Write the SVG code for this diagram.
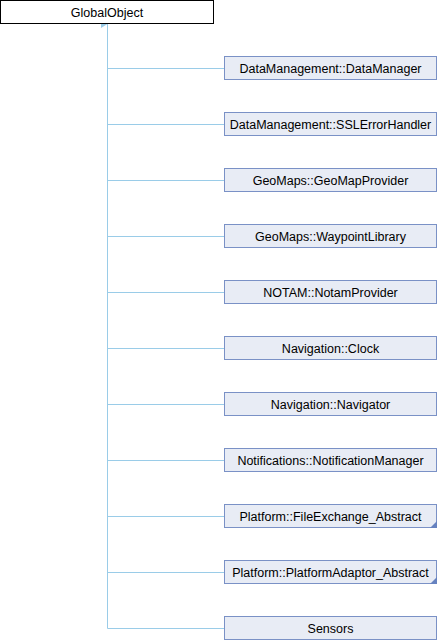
<svg xmlns="http://www.w3.org/2000/svg" width="438" height="640" viewBox="0 0 438 640">
<defs>
<style>
.box{fill:#E8ECF5;stroke:#7A91C6;stroke-width:1}
.root{fill:#FFFFFF;stroke:#000000;stroke-width:1}
.lbl{font-family:"Liberation Sans",Arial,sans-serif;font-size:12.5px;fill:#000000;text-anchor:middle}
.edge{stroke:#9ACCE8;stroke-width:1;fill:none}
.tri{fill:#6682C0}
</style>
<marker id="arr" markerWidth="8" markerHeight="8" refX="4" refY="0.5" orient="auto" markerUnits="userSpaceOnUse" viewBox="0 0 8 8">
<path d="M0,7 L4,0.5 L8,7 Z" fill="#9ACCE8"/>
</marker>
</defs>
<rect width="438" height="640" fill="#FFFFFF"/>
<g id="connectors">
<path class="edge" d="M107.5,24 V628.5" marker-start="url(#arr)"/>
<path class="edge" d="M107.5,68.5 H224"/>
<path class="edge" d="M107.5,124.5 H224"/>
<path class="edge" d="M107.5,180.5 H224"/>
<path class="edge" d="M107.5,236.5 H224"/>
<path class="edge" d="M107.5,292.5 H224"/>
<path class="edge" d="M107.5,348.5 H224"/>
<path class="edge" d="M107.5,404.5 H224"/>
<path class="edge" d="M107.5,460.5 H224"/>
<path class="edge" d="M107.5,516.5 H224"/>
<path class="edge" d="M107.5,572.5 H224"/>
<path class="edge" d="M107.5,628.5 H224"/>
</g>
<g id="GlobalObject"><rect class="root" x="0.5" y="0.5" width="213" height="23"/><text class="lbl" x="107" y="16.5">GlobalObject</text></g>
<g id="DataManager"><rect class="box" x="224.5" y="56.5" width="212" height="23"/><text class="lbl" x="330.5" y="72.5">DataManagement::DataManager</text></g>
<g id="SSLErrorHandler"><rect class="box" x="224.5" y="112.5" width="212" height="23"/><text class="lbl" x="330.5" y="128.5">DataManagement::SSLErrorHandler</text></g>
<g id="GeoMapProvider"><rect class="box" x="224.5" y="168.5" width="212" height="23"/><text class="lbl" x="330.5" y="184.5">GeoMaps::GeoMapProvider</text></g>
<g id="WaypointLibrary"><rect class="box" x="224.5" y="224.5" width="212" height="23"/><text class="lbl" x="330.5" y="240.5">GeoMaps::WaypointLibrary</text></g>
<g id="NotamProvider"><rect class="box" x="224.5" y="280.5" width="212" height="23"/><text class="lbl" x="330.5" y="296.5">NOTAM::NotamProvider</text></g>
<g id="Clock"><rect class="box" x="224.5" y="336.5" width="212" height="23"/><text class="lbl" x="330.5" y="352.5">Navigation::Clock</text></g>
<g id="Navigator"><rect class="box" x="224.5" y="392.5" width="212" height="23"/><text class="lbl" x="330.5" y="408.5">Navigation::Navigator</text></g>
<g id="NotificationManager"><rect class="box" x="224.5" y="448.5" width="212" height="23"/><text class="lbl" x="330.5" y="464.5">Notifications::NotificationManager</text></g>
<g id="FileExchange_Abstract"><rect class="box" x="224.5" y="504.5" width="212" height="23"/><path class="tri" d="M437,521 V528 H430 Z"/><text class="lbl" x="330.5" y="520.5">Platform::FileExchange_Abstract</text></g>
<g id="PlatformAdaptor_Abstract"><rect class="box" x="224.5" y="560.5" width="212" height="23"/><path class="tri" d="M437,577 V584 H430 Z"/><text class="lbl" x="330.5" y="576.5">Platform::PlatformAdaptor_Abstract</text></g>
<g id="Sensors"><rect class="box" x="224.5" y="616.5" width="212" height="23"/><text class="lbl" x="330.5" y="632.5">Sensors</text></g>
</svg>
